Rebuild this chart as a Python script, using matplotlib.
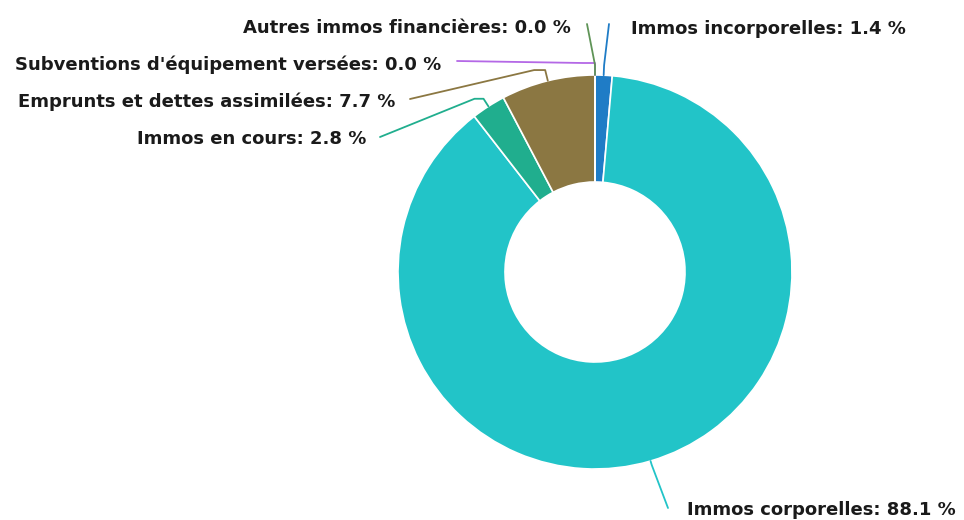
import matplotlib.pyplot as plt
import numpy as np

# slices, clockwise from 12 o'clock
labels = ["Immos incorporelles", "Immos corporelles", "Immos en cours",
          "Emprunts et dettes assimilées", "Subventions d'équipement versées",
          "Autres immos financières"]
values = [1.4, 88.1, 2.8, 7.7, 0.0, 0.0]
colors = ["#1f7cc6", "#22c4c8", "#20ae8e", "#8b7742", "#b468e6", "#5f9457"]

W, H = 964, 520
cx, cy, r_out, r_in = 595, 272, 197, 90

# label layout (pixel coords, y from top):
# text x, text y, ha, elbow length, horizontal step, line end x, line end y
layout = [
    (631, 29, "left", 10, 0, 609, 24),
    (687, 510, "left", 4, 0, 668, 508),
    (366, 139, "right", 9, -9, 380, 137),
    (395, 102, "right", 11, -11, 410, 99),
    (441, 65, "right", 12, -12, 457, 61),
    (571, 28, "right", 10, 0, 587, 24),
]

fig = plt.figure(figsize=(W / 100, H / 100), dpi=100)
ax = fig.add_axes([0, 0, 1, 1])

wedges, _ = ax.pie(values, colors=colors, startangle=90, counterclock=False,
                   center=(cx, H - cy), radius=r_out,
                   wedgeprops=dict(width=r_out - r_in, edgecolor="white", linewidth=1.2))
ax.set_xlim(0, W)
ax.set_ylim(0, H)
ax.set_aspect("equal")
ax.axis("off")

total = sum(values)
start = 0.0
for lab, v, col, (tx, ty, ha, el, step, ex, ey) in zip(labels, values, colors, layout):
    mid = np.deg2rad((start + v / 2) / total * 360)
    start += v
    a_x = cx + r_out * np.sin(mid)
    a_y = cy - r_out * np.cos(mid)
    e_x = cx + (r_out + el) * np.sin(mid)
    e_y = cy - (r_out + el) * np.cos(mid)
    xs = [a_x, e_x, e_x + step, ex]
    ys = [a_y, e_y, e_y, ey]
    ax.plot(xs, [H - y for y in ys], color=col, lw=1.3,
            solid_capstyle="round", solid_joinstyle="round")
    ax.text(tx, H - ty, f"{lab}: {v:.1f} %", ha=ha, va="center",
            fontsize=13, fontweight="bold", color="#1a1a1a", family="DejaVu Sans")

fig.savefig("out.png", dpi=100, facecolor="white")
